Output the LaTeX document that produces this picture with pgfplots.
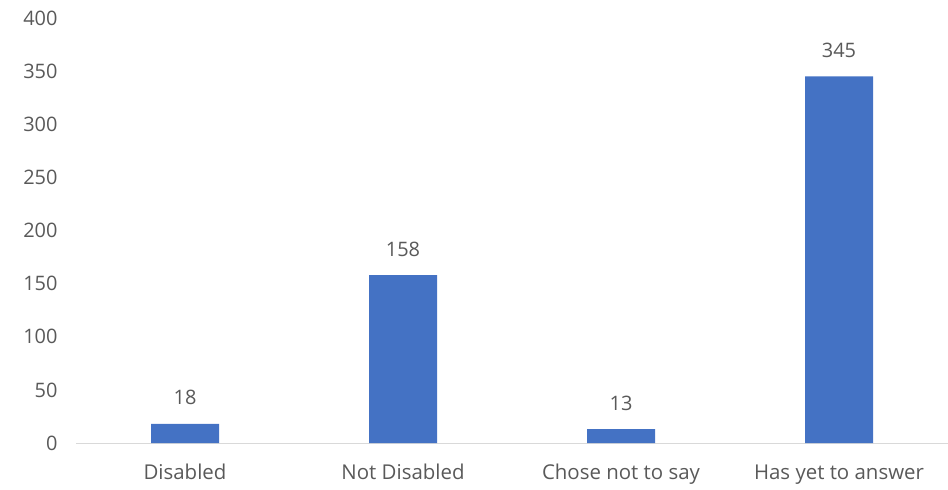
\documentclass[border=0pt]{standalone}
\usepackage{pgfplots}
\pgfplotsset{compat=1.18}
\usepackage{fontspec}
\setmainfont{Open Sans}
\definecolor{barblue}{HTML}{4472C4}
\definecolor{txtgray}{HTML}{595959}
\definecolor{axgray}{HTML}{D9D9D9}
\begin{document}
\begin{tikzpicture}
\path[use as bounding box] (-76bp,-47bp) rectangle (872bp,443bp);
\begin{axis}[
  at={(0,0)}, anchor=south west,
  scale only axis, width=872bp, height=425bp,
  xmin=-0.5, xmax=3.5, ymin=0, ymax=400,
  ytick={0,50,...,400},
  xtick={0,1,2,3},
  xticklabels={Disabled, Not Disabled, Chose not to say, Has yet to answer},
  axis x line=bottom, axis y line=left,
  x axis line style={draw=axgray, line width=1pt, -},
  y axis line style={draw=none},
  major tick length=0pt,
  tick style={draw=none},
  yticklabel style={font=\fontsize{20}{22}\selectfont, text=txtgray, anchor=east, xshift=-15bp},
  xticklabel style={font=\fontsize{20.5}{22}\selectfont, text=txtgray, anchor=base, yshift=-36bp},
  /pgf/number format/assume math mode=true,
  ybar, bar width=68bp,
  nodes near coords,
  every node near coord/.append style={font=\fontsize{20}{22}\selectfont, text=txtgray, anchor=base, yshift=19bp},
  clip=false,
]
\addplot[fill=barblue, draw=none] coordinates {(0,18) (1,158) (2,13) (3,345)};
\end{axis}
\end{tikzpicture}
\end{document}
